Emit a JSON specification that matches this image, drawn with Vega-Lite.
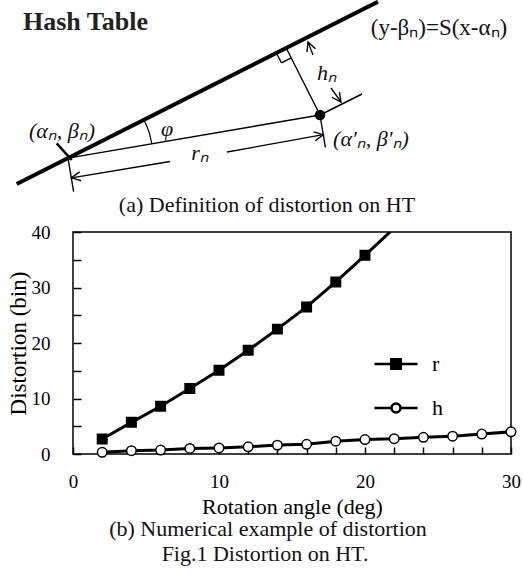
{
  "$schema": "https://vega.github.io/schema/vega-lite/v6.json",
  "width": 438,
  "height": 222,
  "autosize": {"type": "none"},
  "padding": {"left": 73, "top": 232, "right": 12, "bottom": 123},
  "background": "white",
  "config": {
    "view": {"stroke": "black", "strokeWidth": 1.5},
    "font": "Liberation Serif",
    "axis": {"domain": false, "grid": false, "tickColor": "black", "tickWidth": 1.5, "labelColor": "black", "titleColor": "black", "labelFont": "Liberation Serif", "titleFont": "Liberation Serif", "titleFontWeight": "normal", "labelOverlap": false, "labelFlush": false, "labelBound": false}
  },
  "datasets": {
    "distortion": [
      {"angle": 2, "series": "r", "value": 2.7},
      {"angle": 4, "series": "r", "value": 5.7},
      {"angle": 6, "series": "r", "value": 8.6},
      {"angle": 8, "series": "r", "value": 11.8},
      {"angle": 10, "series": "r", "value": 15.1},
      {"angle": 12, "series": "r", "value": 18.7},
      {"angle": 14, "series": "r", "value": 22.5},
      {"angle": 16, "series": "r", "value": 26.5},
      {"angle": 18, "series": "r", "value": 31.0},
      {"angle": 20, "series": "r", "value": 35.8},
      {"angle": 22, "series": "r", "value": 40.7},
      {"angle": 2, "series": "h", "value": 0.3},
      {"angle": 4, "series": "h", "value": 0.6},
      {"angle": 6, "series": "h", "value": 0.7},
      {"angle": 8, "series": "h", "value": 1.0},
      {"angle": 10, "series": "h", "value": 1.1},
      {"angle": 12, "series": "h", "value": 1.3},
      {"angle": 14, "series": "h", "value": 1.6},
      {"angle": 16, "series": "h", "value": 1.75},
      {"angle": 18, "series": "h", "value": 2.3},
      {"angle": 20, "series": "h", "value": 2.6},
      {"angle": 22, "series": "h", "value": 2.75},
      {"angle": 24, "series": "h", "value": 3.0},
      {"angle": 26, "series": "h", "value": 3.2},
      {"angle": 28, "series": "h", "value": 3.6},
      {"angle": 30, "series": "h", "value": 4.0}
    ],
    "segments": [
      {"kind": "main", "u1": -5.63, "v1": 27.0, "u2": 30.5, "v2": 45.23},
      {"kind": "thin", "u1": -0.5, "v1": 29.59, "u2": 24.7, "v2": 33.9},
      {"kind": "thin", "u1": 21.32, "v1": 40.6, "u2": 24.7, "v2": 33.9},
      {"kind": "thin", "u1": 20.34, "v1": 40.1, "u2": 20.84, "v2": 39.12},
      {"kind": "thin", "u1": 20.84, "v1": 39.12, "u2": 21.82, "v2": 39.62},
      {"kind": "thin", "u1": 24.7, "v1": 33.9, "u2": 28.9, "v2": 36.0},
      {"kind": "thin", "u1": 24.7, "v1": 33.9, "u2": 25.24, "v2": 30.65},
      {"kind": "thin", "u1": -0.5, "v1": 29.59, "u2": 0.06, "v2": 26.24},
      {"kind": "cross", "u1": -1.63, "v1": 31.07, "u2": -0.13, "v2": 29.4}
    ],
    "arrows": [
      {"u1": 9.7, "v1": 29.25, "u2": -0.15, "v2": 27.62},
      {"u1": 15.4, "v1": 30.2, "u2": 25.03, "v2": 31.93},
      {"u1": 24.0, "v1": 39.9, "u2": 23.5, "v2": 41.2},
      {"u1": 25.8, "v1": 36.6, "u2": 26.8, "v2": 35.2}
    ],
    "arc": [
      {"u": 7.09, "v": 33.43},
      {"u": 7.44, "v": 32.65},
      {"u": 7.71, "v": 31.8},
      {"u": 7.88, "v": 31.0}
    ],
    "dot": [{"u": 24.7, "v": 33.9}],
    "labels": [
      {"role": "title", "u": -5.0, "v": 42.4, "text": "Hash Table"},
      {"role": "math", "u": -1.1, "v": 31.6, "text": "(αₙ, βₙ)"},
      {"role": "math", "u": 9.4, "v": 31.8, "text": "φ"},
      {"role": "math", "u": 12.7, "v": 29.4, "text": "rₙ"},
      {"role": "math", "u": 25.4, "v": 37.4, "text": "hₙ"},
      {"role": "math", "u": 29.8, "v": 30.8, "text": "(α′ₙ, β′ₙ)"},
      {"role": "eq", "u": 36.6, "v": 41.9, "text": "(y-βₙ)=S(x-αₙ)"},
      {"role": "caption", "u": 19.4, "v": 24.2, "text": "(a) Definition of distortion on HT"},
      {"role": "caption", "u": 19.5, "v": -8.2, "text": "(b) Numerical example of distortion"},
      {"role": "caption", "u": 19.2, "v": -10.7, "text": "Fig.1 Distortion on HT."}
    ]
  },
  "layer": [
    {
      "data": {"name": "distortion"},
      "layer": [
        {
          "mark": {"type": "line", "color": "black", "strokeWidth": 3, "clip": true},
          "encoding": {
            "x": {"field": "angle", "type": "quantitative", "scale": {"domain": [0, 30], "nice": false},
              "axis": {"values": [0, 2, 4, 6, 8, 10, 12, 14, 16, 18, 20, 22, 24, 26, 28, 30], "tickCount": 100, "format": "d", "labelExpr": "datum.value % 10 === 0 ? datum.label : ''", "tickSize": -7, "labelPadding": 25, "labelFontSize": 19, "labelFlush": false, "labelOverlap": false, "title": "Rotation angle (deg)", "titleFontSize": 22, "titlePadding": 5}},
            "y": {"field": "value", "type": "quantitative", "scale": {"domain": [0, 40], "nice": false},
              "axis": {"values": [0, 5, 10, 15, 20, 25, 30, 35, 40], "tickCount": 100, "format": "d", "labelExpr": "datum.value % 10 === 0 ? datum.label : ''", "tickSize": -8, "labelPadding": 31, "labelFontSize": 19, "labelFlush": false, "labelOverlap": false, "title": "Distortion (bin)", "titleFontSize": 23, "titlePadding": 1}},
            "detail": {"field": "series"}
          }
        },
        {
          "transform": [{"filter": "datum.value <= 40"}],
          "mark": {"type": "point", "filled": true, "stroke": "black", "strokeWidth": 1.5, "size": 90, "opacity": 1},
          "encoding": {
            "x": {"field": "angle", "type": "quantitative"},
            "y": {"field": "value", "type": "quantitative"},
            "shape": {"field": "series", "type": "nominal", "scale": {"domain": ["r", "h"], "range": ["square", "circle"]}, "legend": null},
            "fill": {"field": "series", "type": "nominal", "scale": {"domain": ["r", "h"], "range": ["black", "white"]}, "legend": null}
          }
        },
        {
          "transform": [{"filter": "datum.value <= 40"}],
          "mark": {"type": "point", "opacity": 0},
          "encoding": {
            "x": {"field": "angle", "type": "quantitative"},
            "y": {"field": "value", "type": "quantitative"},
            "shape": {"field": "series", "type": "nominal",
              "scale": {"domain": ["r", "h"], "range": [
                "M-1,0H1M-0.22,-0.22H0.22V0.22H-0.22ZM-0.22,-0.165H0.22M-0.22,-0.11H0.22M-0.22,-0.055H0.22M-0.22,0.055H0.22M-0.22,0.11H0.22M-0.22,0.165H0.22",
                "M-1,0H-0.21M0.21,0H1M-0.21,0A0.21,0.21,0,1,1,0.21,0A0.21,0.21,0,1,1,-0.21,0Z"]},
              "legend": {"orient": "none", "legendX": 300, "legendY": 109, "title": null, "padding": 0, "symbolSize": 1849, "symbolFillColor": "white", "symbolStrokeColor": "black", "symbolStrokeWidth": 2.5, "symbolOpacity": 1, "labelFont": "Liberation Serif", "labelFontSize": 22, "labelColor": "black", "labelOffset": 13, "rowPadding": 10}}
          }
        }
      ],
      "resolve": {"scale": {"shape": "independent"}}
    },
    {
      "layer": [
        {
          "data": {"name": "segments"},
          "transform": [{"filter": "datum.kind === 'main'"}],
          "mark": {"type": "rule", "color": "black", "strokeWidth": 4},
          "encoding": {
            "x": {"field": "u1", "type": "quantitative", "scale": {"domain": [0, 43.8], "nice": false, "zero": false}, "axis": null},
            "y": {"field": "v1", "type": "quantitative", "scale": {"domain": [0, 22.2], "nice": false, "zero": false}, "axis": null},
            "x2": {"field": "u2"},
            "y2": {"field": "v2"}
          }
        },
        {
          "data": {"name": "segments"},
          "transform": [{"filter": "datum.kind === 'thin'"}],
          "mark": {"type": "rule", "color": "black", "strokeWidth": 1.4},
          "encoding": {
            "x": {"field": "u1", "type": "quantitative"},
            "y": {"field": "v1", "type": "quantitative"},
            "x2": {"field": "u2"},
            "y2": {"field": "v2"}
          }
        },
        {
          "data": {"name": "segments"},
          "transform": [{"filter": "datum.kind === 'cross'"}],
          "mark": {"type": "rule", "color": "black", "strokeWidth": 2.5},
          "encoding": {
            "x": {"field": "u1", "type": "quantitative"},
            "y": {"field": "v1", "type": "quantitative"},
            "x2": {"field": "u2"},
            "y2": {"field": "v2"}
          }
        },
        {
          "data": {"name": "arrows"},
          "mark": {"type": "rule", "color": "black", "strokeWidth": 1.3},
          "encoding": {
            "x": {"field": "u1", "type": "quantitative"},
            "y": {"field": "v1", "type": "quantitative"},
            "x2": {"field": "u2"},
            "y2": {"field": "v2"}
          }
        },
        {
          "data": {"name": "arrows"},
          "mark": {"type": "point", "shape": "M-0.45,0.9L0,0L0.45,0.9", "filled": false, "stroke": "black", "strokeWidth": 1.4, "size": 400, "opacity": 1},
          "encoding": {
            "x": {"field": "u2", "type": "quantitative"},
            "y": {"field": "v2", "type": "quantitative"},
            "angle": {"value": {"expr": "atan2(datum.u2 - datum.u1, datum.v2 - datum.v1) * 180 / PI"}}
          }
        },
        {
          "data": {"name": "arc"},
          "mark": {"type": "line", "color": "black", "strokeWidth": 1.2, "interpolate": "natural"},
          "encoding": {
            "x": {"field": "u", "type": "quantitative"},
            "y": {"field": "v", "type": "quantitative"}
          }
        },
        {
          "data": {"name": "dot"},
          "mark": {"type": "point", "filled": true, "color": "black", "size": 110, "opacity": 1},
          "encoding": {
            "x": {"field": "u", "type": "quantitative"},
            "y": {"field": "v", "type": "quantitative"}
          }
        },
        {
          "data": {"name": "labels"},
          "transform": [{"filter": "datum.role === 'title'"}],
          "mark": {"type": "text", "font": "Liberation Serif", "fontSize": 26, "fontWeight": "bold", "align": "left", "baseline": "alphabetic", "color": "#222"},
          "encoding": {
            "x": {"field": "u", "type": "quantitative"},
            "y": {"field": "v", "type": "quantitative"},
            "text": {"field": "text"}
          }
        },
        {
          "data": {"name": "labels"},
          "transform": [{"filter": "datum.role === 'math'"}],
          "mark": {"type": "text", "font": "Liberation Serif", "fontSize": 22, "fontStyle": "italic", "align": "center", "baseline": "alphabetic", "color": "#111"},
          "encoding": {
            "x": {"field": "u", "type": "quantitative"},
            "y": {"field": "v", "type": "quantitative"},
            "text": {"field": "text"}
          }
        },
        {
          "data": {"name": "labels"},
          "transform": [{"filter": "datum.role === 'eq'"}],
          "mark": {"type": "text", "font": "Liberation Serif", "fontSize": 23, "align": "center", "baseline": "alphabetic", "color": "#111"},
          "encoding": {
            "x": {"field": "u", "type": "quantitative"},
            "y": {"field": "v", "type": "quantitative"},
            "text": {"field": "text"}
          }
        },
        {
          "data": {"name": "labels"},
          "transform": [{"filter": "datum.role === 'caption'"}],
          "mark": {"type": "text", "font": "Liberation Serif", "fontSize": 22, "align": "center", "baseline": "alphabetic", "color": "#111"},
          "encoding": {
            "x": {"field": "u", "type": "quantitative"},
            "y": {"field": "v", "type": "quantitative"},
            "text": {"field": "text"}
          }
        }
      ]
    }
  ],
  "resolve": {"scale": {"x": "independent", "y": "independent"}}
}
